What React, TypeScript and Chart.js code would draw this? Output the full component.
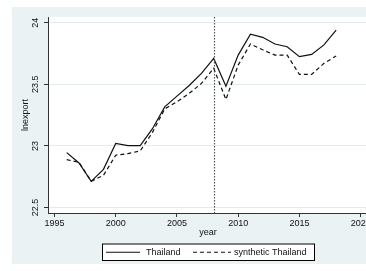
import React, { useEffect, useRef } from "react";
import { Chart, registerables } from "chart.js";

Chart.register(...registerables);

const years = [1996, 1997, 1998, 1999, 2000, 2001, 2002, 2003, 2004, 2005, 2006, 2007, 2008, 2009, 2010, 2011, 2012, 2013, 2014, 2015, 2016, 2017, 2018];
const thailand = [22.946, 22.862, 22.713, 22.81, 23.02, 23.003, 23.003, 23.14, 23.317, 23.404, 23.49, 23.588, 23.71, 23.485, 23.737, 23.906, 23.881, 23.827, 23.805, 23.724, 23.743, 23.82, 23.94];
const synthetic = [22.889, 22.867, 22.713, 22.762, 22.925, 22.938, 22.96, 23.11, 23.3, 23.358, 23.426, 23.507, 23.63, 23.377, 23.656, 23.827, 23.78, 23.737, 23.737, 23.58, 23.58, 23.67, 23.73];
const xTicks = [1995, 2000, 2005, 2010, 2015, 2020];
const yTicks = [22.5, 23, 23.5, 24];
const yTickLabels = ["22.5", "23", "23.5", "24"];
const treatmentYear = 2008;
const seriesNames = ["Thailand", "synthetic Thailand"];
const xTitle = "year";
const yTitle = "lnexport";

const FONT = "Liberation Sans, Arial, sans-serif";
const BG = "#EAF2F3";

export default function App() {
  const ref = useRef<HTMLCanvasElement | null>(null);

  useEffect(() => {
    const canvas = ref.current;
    if (!canvas) return;

    const decor = {
      id: "decor",
      beforeDraw(chart: any) {
        const { ctx, chartArea } = chart;
        ctx.save();
        ctx.fillStyle = "#ffffff";
        ctx.fillRect(0, 0, chart.width, chart.height);
        ctx.fillStyle = BG;
        ctx.fillRect(12, 7, chart.width - 12, 257);
        ctx.fillStyle = "#ffffff";
        ctx.fillRect(chartArea.left, chartArea.top, chartArea.right - chartArea.left, chartArea.bottom - chartArea.top);
        ctx.restore();
      },
      afterDraw(chart: any) {
        const { ctx, chartArea } = chart;
        const xs = chart.scales.x;
        const ys = chart.scales.y;
        ctx.save();
        // treatment line
        const vx = Math.round(xs.getPixelForValue(treatmentYear)) + 0.5;
        ctx.strokeStyle = "#555";
        ctx.lineWidth = 1.2;
        ctx.setLineDash([1.5, 1.5]);
        ctx.beginPath();
        ctx.moveTo(vx, chartArea.top);
        ctx.lineTo(vx, chartArea.bottom);
        ctx.stroke();
        ctx.setLineDash([]);
        // y tick labels (rotated)
        ctx.fillStyle = "#111";
        ctx.font = `9px ${FONT}`;
        ctx.textAlign = "center";
        ctx.textBaseline = "middle";
        yTicks.forEach((v, i) => {
          const py = ys.getPixelForValue(v);
          ctx.save();
          ctx.translate(36, py);
          ctx.rotate(-Math.PI / 2);
          ctx.fillText(yTickLabels[i], 0, 0);
          ctx.restore();
        });
        // y title
        ctx.save();
        ctx.translate(25.5, (chartArea.top + chartArea.bottom) / 2);
        ctx.rotate(-Math.PI / 2);
        ctx.fillText(yTitle, 0, 0);
        ctx.restore();
        // x title
        ctx.fillText(xTitle, (chartArea.left + chartArea.right) / 2, 233);
        // legend
        const lx = 102, ly = 243.5, lw = 212, lh = 16.5;
        ctx.fillStyle = "#ffffff";
        ctx.fillRect(lx, ly, lw, lh);
        ctx.strokeStyle = "#000";
        ctx.lineWidth = 1;
        ctx.strokeRect(lx + 0.5, ly + 0.5, lw, lh);
        const my = ly + lh / 2 + 0.5;
        ctx.lineWidth = 1.1;
        ctx.strokeStyle = "#111";
        ctx.beginPath();
        ctx.moveTo(106, my);
        ctx.lineTo(140, my);
        ctx.stroke();
        ctx.setLineDash([4, 3]);
        ctx.beginPath();
        ctx.moveTo(193, my);
        ctx.lineTo(231, my);
        ctx.stroke();
        ctx.setLineDash([]);
        ctx.fillStyle = "#111";
        ctx.textAlign = "left";
        ctx.fillText(seriesNames[0], 146, my);
        ctx.fillText(seriesNames[1], 234, my);
        ctx.restore();
      },
    };

    const chart = new Chart(canvas, {
      type: "line",
      data: {
        datasets: [
          {
            label: seriesNames[0],
            data: years.map((y, i) => ({ x: y, y: thailand[i] })),
            borderColor: "#111",
            borderWidth: 1.2,
            pointRadius: 0,
            tension: 0,
          },
          {
            label: seriesNames[1],
            data: years.map((y, i) => ({ x: y, y: synthetic[i] })),
            borderColor: "#111",
            borderWidth: 1.2,
            borderDash: [4, 3],
            pointRadius: 0,
            tension: 0,
          },
        ],
      },
      options: {
        animation: false,
        responsive: false,
        devicePixelRatio: 1,
        layout: { padding: { left: 12, top: 17, right: 12, bottom: 0 } },
        plugins: { legend: { display: false }, tooltip: { enabled: false } },
        scales: {
          x: {
            type: "linear",
            min: 1994.47,
            max: 2020.6,
            afterBuildTicks: (s: any) => {
              s.ticks = xTicks.map((v) => ({ value: v }));
            },
            afterFit: (s: any) => {
              s.height = 58;
              s.paddingLeft = 0;
              s.paddingRight = 0;
            },
            grid: { drawOnChartArea: false, drawTicks: true, tickLength: 4, tickColor: "#333", color: "#333" },
            border: { display: true, color: "#333", width: 1 },
            ticks: {
              autoSkip: false,
              maxRotation: 0,
              minRotation: 0,
              padding: 1,
              color: "#111",
              font: { family: FONT, size: 9 },
              callback: (v: any) => String(v),
            },
          },
          y: {
            type: "linear",
            min: 22.456,
            max: 24.046,
            afterBuildTicks: (s: any) => {
              s.ticks = yTicks.map((v) => ({ value: v }));
            },
            afterFit: (s: any) => {
              s.width = 36;
              s.paddingTop = 0;
              s.paddingBottom = 0;
            },
            grid: { drawOnChartArea: true, drawTicks: true, tickLength: 4, tickColor: "#333", color: "#E2EBEE", lineWidth: 1 },
            border: { display: true, color: "#333", width: 1 },
            ticks: { display: false },
          },
        },
      },
      plugins: [decor],
    });

    return () => chart.destroy();
  }, []);

  return (
    <div style={{ position: "fixed", left: 0, top: 0, width: 380, height: 271 }}>
      <canvas ref={ref} width={380} height={271} style={{ width: 380, height: 271, display: "block" }} />
    </div>
  );
}
